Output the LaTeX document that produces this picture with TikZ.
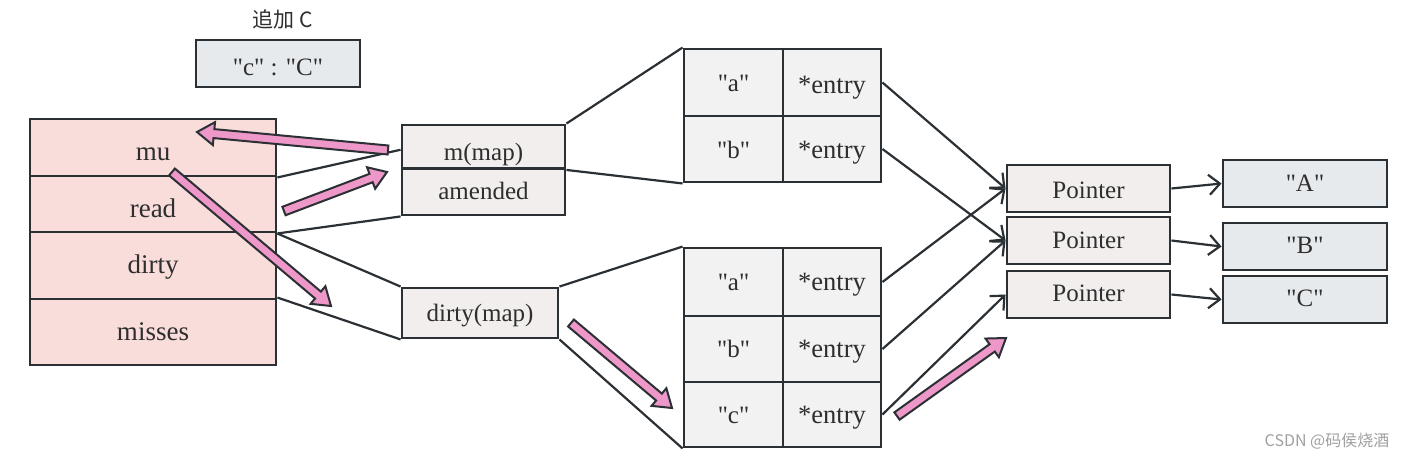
\documentclass[tikz,border=0pt]{standalone}
\usepackage{fontspec}
\setmainfont{Liberation Serif}[Ligatures=TeXOff]
\newfontfamily\cjk{Noto Sans CJK SC}
\usetikzlibrary{arrows.meta,calc}
\definecolor{edge}{HTML}{2B3035}
\definecolor{txt}{HTML}{2E2E2E}
\definecolor{pinkbg}{HTML}{F9DDDB}
\definecolor{mapbg}{HTML}{F1EEED}
\definecolor{cellbg}{HTML}{F2F2F2}
\definecolor{valbg}{HTML}{E6EAED}
\definecolor{pinkar}{HTML}{EE98C9}
\definecolor{wm}{HTML}{A0A0A0}
\tikzset{
  box/.style={draw=edge, line width=2.9pt, text=txt, inner sep=0pt, anchor=center,
    text height=22pt, text depth=5pt, font=\fontsize{25}{30}\selectfont},
  ltab/.style={box, fill=pinkbg, minimum width=246pt, font=\fontsize{27}{32}\selectfont},
  mapbox/.style={box, fill=mapbg},
  cell/.style={box, fill=cellbg},
  entry/.style={cell, font=\fontsize{26.5}{31}\selectfont},
  valbox/.style={box, fill=valbg},
  conn/.style={draw=edge, line width=2.2pt},
  ptr/.style={conn, -{Straight Barb[length=11pt,width=20pt,line width=2.2pt]}},
  blockar/.style={draw=edge, fill=pinkar, line width=2pt, line join=miter},
}
\newcommand\pinkarrow[2]{%
  \draw[blockar] let \p1=(#1), \p2=(#2), \n1={atan2(\y2-\y1,\x2-\x1)},
    \n2={veclen(\x2-\x1,\y2-\y1)} in
    [shift={(\p1)}, rotate=\n1]
    (0pt,-4.5pt) -- (\n2-17pt,-4.5pt) -- (\n2-17pt,-11.5pt) -- (\n2,0pt)
    -- (\n2-17pt,11.5pt) -- (\n2-17pt,4.5pt) -- (0pt,4.5pt) -- cycle;}
\begin{document}
\begin{tikzpicture}[x=1pt,y=-1pt]
\fill[white] (0,0) rectangle (1411,459);
\useasboundingbox (0,0) rectangle (1411,459);

% title and new entry
\node[text=txt, font=\cjk\fontsize{21}{25}\selectfont] (title) at (283,19) {追加 C};
\node[valbox, minimum width=164pt, minimum height=47pt, text height=28pt] (newc) at (278,63.5) {"c" : "C"};

% left struct
\node[ltab, minimum height=57pt, text height=30pt] (mu) at (153,147.5) {mu};
\node[ltab, minimum height=56pt, text height=31pt] (read) at (153,204) {read};
\node[ltab, minimum height=67pt, text height=20pt] (dirty) at (153,265.5) {dirty};
\node[ltab, minimum height=66pt, text height=21pt] (misses) at (153,332) {misses};

% read map box
\node[mapbox, minimum width=163pt, minimum height=43.5pt, text height=31.5pt] (mmap) at (483.5,146.75) {m(map)};
\node[mapbox, minimum width=163pt, minimum height=46.5pt, text height=20pt] (amended) at (483.5,191.75) {amended};

% dirty map box
\node[mapbox, minimum width=156pt, minimum height=50pt, text height=22.5pt] (dmap) at (480,313) {dirty(map)};

% upper table
\node[cell, minimum width=99pt, minimum height=67pt, text height=23pt] (uak) at (733.5,82.5) {"a"};
\node[entry, minimum width=98pt, minimum height=67pt, text height=27pt] (uae) at (832,82.5) {*entry};
\node[cell, minimum width=99pt, minimum height=66pt, text height=23pt] (ubk) at (733.5,149) {"b"};
\node[entry, minimum width=98pt, minimum height=66pt, text height=24pt] (ube) at (832,149) {*entry};

% lower table
\node[cell, minimum width=99pt, minimum height=68pt] (lak) at (733.5,282) {"a"};
\node[entry, minimum width=98pt, minimum height=68pt] (lae) at (832,282) {*entry};
\node[cell, minimum width=99pt, minimum height=66pt] (lbk) at (733.5,349) {"b"};
\node[entry, minimum width=98pt, minimum height=66pt] (lbe) at (832,349) {*entry};
\node[cell, minimum width=99pt, minimum height=65pt] (lck) at (733.5,414.5) {"c"};
\node[entry, minimum width=98pt, minimum height=65pt] (lce) at (832,414.5) {*entry};

% pointers
\node[mapbox, minimum width=163pt, minimum height=47pt, text height=24.5pt] (p1) at (1088.5,188.5) {Pointer};
\node[mapbox, minimum width=163pt, minimum height=47pt, text height=20.5pt] (p2) at (1088.5,240.5) {Pointer};
\node[mapbox, minimum width=163pt, minimum height=47pt, text height=19.5pt] (p3) at (1088.5,294.5) {Pointer};

% values
\node[valbox, minimum width=164pt, minimum height=47pt, text height=21.5pt] (vA) at (1305,183.5) {"A"};
\node[valbox, minimum width=164pt, minimum height=47pt, text height=19pt] (vB) at (1305,246.5) {"B"};
\node[valbox, minimum width=164pt, minimum height=47pt, text height=19.5pt] (vC) at (1305,299.5) {"C"};

% connectors
\draw[conn] (mu.south east) -- ($(mmap.west)+(0,3)$);
\draw[conn] (read.south east) -- (amended.south west);
\draw[conn] ($(dirty.north east)+(0,3)$) -- (dmap.north west);
\draw[conn] (misses.north east) -- (dmap.south west);
\draw[conn] (mmap.north east) -- (uak.north west);
\draw[conn] (mmap.south east) -- (ubk.south west);
\draw[conn] (dmap.north east) -- (lak.north west);
\draw[conn] (dmap.south east) -- (lck.south west);

\draw[ptr] (uae.east) -- (p1.west);
\draw[ptr] (ube.east) -- (p2.west);
\draw[ptr] (lae.east) -- (p1.west);
\draw[ptr] (lbe.east) -- (p2.west);
\draw[ptr] (lce.east) -- (p3.west);
\draw[ptr] (p1.east) -- (vA.west);
\draw[ptr] (p2.east) -- (vB.west);
\draw[ptr] (p3.east) -- (vC.west);

% pink annotation arrows
\coordinate (a1s) at (388,150); \coordinate (a1e) at (197,132);
\coordinate (a2s) at (284,211); \coordinate (a2e) at (387,172);
\coordinate (a3s) at (172,172); \coordinate (a3e) at (331,306);
\coordinate (a4s) at (571,323); \coordinate (a4e) at (672,408);
\coordinate (a5s) at (897,416); \coordinate (a5e) at (1006,338);
\pinkarrow{a1s}{a1e}
\pinkarrow{a2s}{a2e}
\pinkarrow{a3s}{a3e}
\pinkarrow{a4s}{a4e}
\pinkarrow{a5s}{a5e}

% watermark
\node[text=wm, font=\cjk\fontsize{16}{19}\selectfont] (wmk) at (1327,441) {CSDN @码侯烧酒};
\end{tikzpicture}
\end{document}
